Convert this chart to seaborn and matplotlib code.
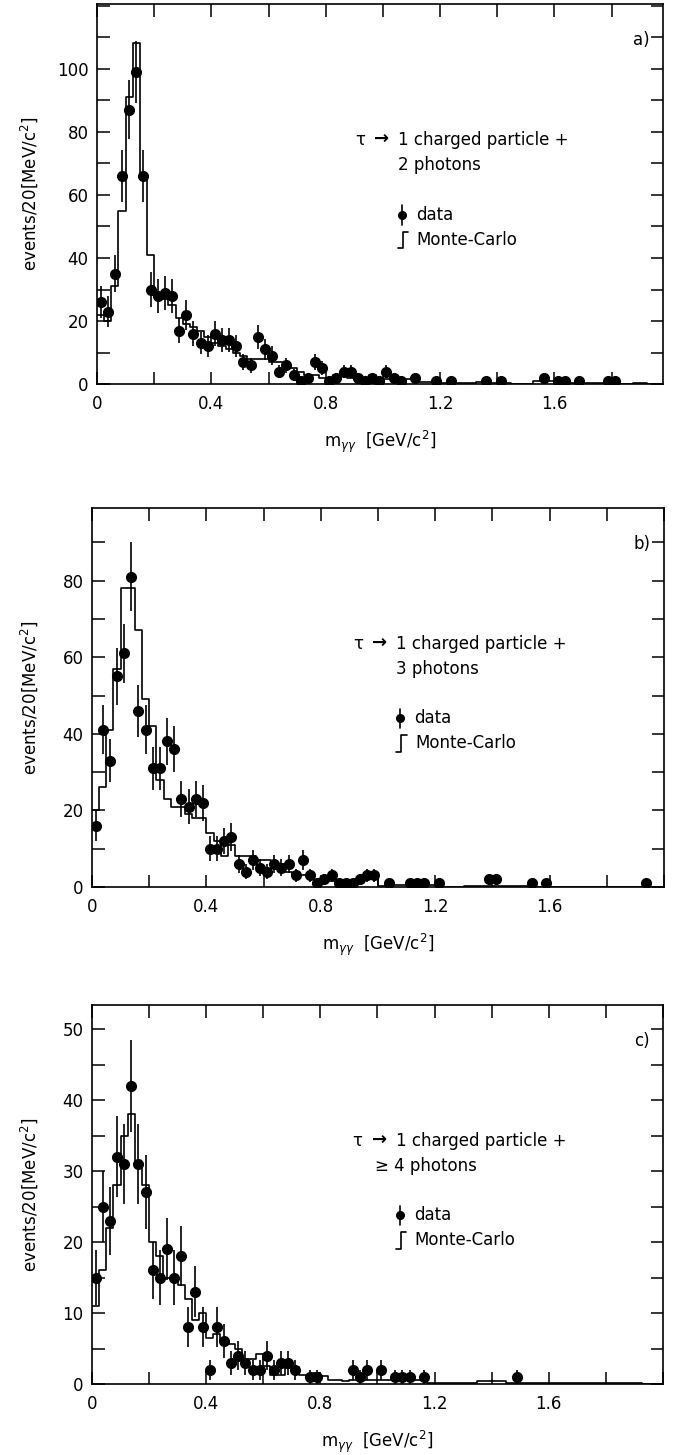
import numpy as np
import pandas as pd
import matplotlib
matplotlib.use('Agg')
import matplotlib.pyplot as plt
import seaborn as sns
from matplotlib.ticker import FixedLocator, MultipleLocator, FuncFormatter

# 25 MeV bins from 0 to 2 GeV (80 bins)
bin_edges = np.round(np.arange(0, 2.0001, 0.025), 4)
bin_centers = (bin_edges[:-1] + bin_edges[1:]) / 2
x_labels = [0, 0.4, 0.8, 1.2, 1.6]

# panel a) tau -> 1 charged + 2 photons
a_data = [26, 23, 35, 66, 87, 99, 66, 30, 28, 29,
          28, 17, 22, 16, 13, 12, 16, 14, 14, 12,
          7, 6, 15, 11, 9, 4, 6, 3, 1, 2,
          7, 5, 1, 2, 4, 4, 2, 1, 2, 1,
          4, 2, 1, 0, 2, 0, 0, 1, 0, 1,
          0, 0, 0, 0, 1, 0, 1, 0, 0, 0,
          0, 0, 2, 0, 1, 1, 0, 1, 0, 0,
          0, 1, 1, 0, 0, 0, 0, 0, 0, 0]
a_err = [5.1, 4.8, 5.9, 8.1, 9.3, 9.9, 8.1, 5.5, 5.3, 5.4,
         5.3, 4.1, 4.7, 4.0, 3.6, 3.5, 4.0, 3.7, 3.7, 3.5,
         2.6, 2.4, 3.9, 3.3, 3.0, 2.0, 2.4, 1.7, 1.0, 1.4,
         2.6, 2.2, 1.0, 1.4, 2.0, 2.0, 1.4, 1.0, 1.4, 1.0,
         2.0, 1.4, 1.0, 0, 1.4, 0, 0, 1.0, 0, 1.0,
         0, 0, 0, 0, 1.0, 0, 1.0, 0, 0, 0,
         0, 0, 1.4, 0, 1.0, 1.0, 0, 1.0, 0, 0,
         0, 1.0, 1.0, 0, 0, 0, 0, 0, 0, 0]
a_mc = [22, 20, 31, 55, 91, 108, 65, 41, 29, 27,
        25, 21, 19, 18, 17, 15, 13, 12, 11, 10,
        9, 8, 8, 8, 7, 7, 6, 5, 4, 3,
        3, 2, 2, 3, 3, 2, 2, 2, 3, 2,
        1.5, 1.5, 1.5, 1.5, 1.5, 0.8, 0.8, 0.5, 0.5, 0.5,
        0.2, 0.2, 0.2, 0.7, 0.7, 0.4, 0.4, 0.4, 0.1, 0.1,
        0.1, 1.0, 1.0, 1.0, 1.0, 0.4, 0.4, 0.4, 0.4, 0.4,
        0.4, 0.5, 0.5, 0, 0, 0.3, 0.3, 0, 0, 0]

# panel b) tau -> 1 charged + 3 photons
b_data = [16, 41, 33, 55, 61, 81, 46, 41, 31, 31,
          38, 36, 23, 21, 23, 22, 10, 10, 12, 13,
          6, 4, 7, 5, 4, 6, 5, 6, 3, 7,
          3, 1, 2, 3, 1, 1, 1, 2, 3, 3,
          0, 1, 0, 0, 1, 1, 1, 0, 1, 0,
          0, 0, 0, 0, 0, 2, 2, 0, 0, 0,
          0, 1, 0, 1, 0, 0, 0, 0, 0, 0,
          0, 0, 0, 0, 0, 0, 0, 1, 0, 0]
b_err = [4.0, 6.4, 5.7, 7.4, 7.8, 9.0, 6.8, 6.4, 5.6, 5.6,
         6.2, 6.0, 4.8, 4.6, 4.8, 4.7, 3.2, 3.2, 3.5, 3.6,
         2.4, 2.0, 2.6, 2.2, 2.0, 2.4, 2.2, 2.4, 1.7, 2.6,
         1.7, 1.0, 1.4, 1.7, 1.0, 1.0, 1.0, 1.4, 1.7, 1.7,
         0, 1.0, 0, 0, 1.0, 1.0, 1.0, 0, 1.0, 0,
         0, 0, 0, 0, 0, 1.4, 1.4, 0, 0, 0,
         0, 1.0, 0, 1.0, 0, 0, 0, 0, 0, 0,
         0, 0, 0, 0, 0, 0, 0, 1.0, 0, 0]
b_mc = [20, 26, 41, 57, 78, 78, 67, 49, 42, 28,
        23, 21, 21, 19, 18, 18, 14, 12, 8, 11,
        8, 8, 8, 7, 7, 6, 6, 4, 3, 3,
        3, 1.5, 1.5, 1.5, 1.5, 1.5, 1.5, 2, 2, 2,
        0.3, 0.3, 0.6, 0.6, 0.6, 0.6, 0.6, 0.5, 0.5, 0.1,
        0.1, 0.1, 0.3, 0.3, 0.3, 0.3, 0.3, 0.2, 0.2, 0.2,
        0.2, 0.1, 0.1, 0.1, 0.1, 0.1, 0.1, 0.1, 0.1, 0.1,
        0.1, 0.1, 0.1, 0.1, 0.1, 0, 0, 0, 0, 0]

# panel c) tau -> 1 charged + >=4 photons
c_data = [15, 25, 23, 32, 31, 42, 31, 27, 16, 15,
          19, 15, 18, 8, 13, 8, 2, 8, 6, 3,
          4, 3, 2, 2, 4, 2, 3, 3, 2, 0,
          1, 1, 0, 0, 0, 0, 2, 1, 2, 0,
          2, 0, 1, 1, 1, 0, 1, 0, 0, 0,
          0, 0, 0, 0, 0, 0, 0, 0, 0, 1,
          0, 0, 0, 0, 0, 0, 0, 0, 0, 0,
          0, 0, 0, 0, 0, 0, 0, 0, 0, 0]
c_err = [3.9, 5.0, 4.8, 5.7, 5.6, 6.5, 5.6, 5.2, 4.0, 3.9,
         4.4, 3.9, 4.2, 2.8, 3.6, 2.8, 1.4, 2.8, 2.4, 1.7,
         2.0, 1.7, 1.4, 1.4, 2.0, 1.4, 1.7, 1.7, 1.4, 0,
         1.0, 1.0, 0, 0, 0, 0, 1.4, 1.0, 1.4, 0,
         1.4, 0, 1.0, 1.0, 1.0, 0, 1.0, 0, 0, 0,
         0, 0, 0, 0, 0, 0, 0, 0, 0, 1.0,
         0, 0, 0, 0, 0, 0, 0, 0, 0, 0,
         0, 0, 0, 0, 0, 0, 0, 0, 0, 0]
c_mc = [11, 16, 22, 28, 35, 38, 31, 28, 20, 18,
        15, 15, 14, 12, 9, 10, 6.5, 7, 6, 5.6,
        5, 3.5, 3.5, 4.2, 2.5, 1.3, 1.3, 2.3, 2.4, 1.3,
        1.1, 1.6, 1.1, 0.6, 0.5, 0.4, 0.5, 0.6, 0.6, 0.5,
        0.5, 0.5, 0.5, 0.5, 0.5, 0.5, 0.5, 0.1, 0.1, 0.1,
        0.1, 0.1, 0.1, 0.1, 0.4, 0.4, 0.4, 0.4, 0.2, 0.2,
        0.2, 0.2, 0.2, 0.2, 0.2, 0.2, 0.2, 0.2, 0.1, 0.1,
        0.1, 0.1, 0.1, 0.1, 0.1, 0.1, 0.1, 0, 0, 0]

panels = [
    dict(data=a_data, err=a_err, mc=a_mc, tag='a)', photons='2 photons',
         rect=[0.1418, 0.736, 0.8275, 0.2612], xmax=1.98, ymax=120.5,
         ylabels=[0, 20, 40, 60, 80, 100], yminor=10),
    dict(data=b_data, err=b_err, mc=b_mc, tag='b)', photons='3 photons',
         rect=[0.1345, 0.3904, 0.8363, 0.2605], xmax=2.0, ymax=99,
         ylabels=[0, 20, 40, 60, 80], yminor=10),
    dict(data=c_data, err=c_err, mc=c_mc, tag='c)', photons='\u2265 4 photons',
         rect=[0.1345, 0.0488, 0.8348, 0.2605], xmax=2.0, ymax=53.4,
         ylabels=[0, 10, 20, 30, 40, 50], yminor=5),
]

sns.set_style('ticks')
plt.rcParams['font.family'] = ['DejaVu Sans']
plt.rcParams['mathtext.fontset'] = 'dejavusans'
for key in ['text.color', 'axes.labelcolor', 'xtick.color', 'ytick.color', 'axes.edgecolor']:
    plt.rcParams[key] = 'black'
fs = 12

fig = plt.figure(figsize=(6.84, 14.55), dpi=100)

for p in panels:
    ax = fig.add_axes(p['rect'])

    mc_df = pd.DataFrame({'m': bin_centers, 'w': p['mc']})
    sns.histplot(data=mc_df, x='m', weights='w', bins=list(bin_edges),
                 element='step', fill=False, color='black',
                 linewidth=1.2, ax=ax)

    data = np.array(p['data'], dtype=float)
    err = np.array(p['err'])
    keep = data > 0
    ax.errorbar(bin_centers[keep], data[keep], yerr=err[keep], fmt='o',
                color='black', ms=7, elinewidth=1.2, capsize=0, zorder=3)

    ax.set_xlim(0, p['xmax'])
    ax.set_ylim(0, p['ymax'])
    ax.xaxis.set_major_locator(FixedLocator(x_labels))
    ax.xaxis.set_minor_locator(MultipleLocator(0.2))
    ax.xaxis.set_major_formatter(FuncFormatter(lambda v, _: '0' if v == 0 else f'{v:.1f}'))
    ax.yaxis.set_major_locator(FixedLocator(p['ylabels']))
    ax.yaxis.set_minor_locator(MultipleLocator(p['yminor']))

    ax.tick_params(which='both', direction='in', top=True, right=True,
                   length=9, width=1.1, colors='black', labelsize=fs)
    ax.tick_params(axis='x', which='both', pad=8)
    ax.tick_params(axis='y', which='both', pad=6)
    for s in ax.spines.values():
        s.set_linewidth(1.2)
        s.set_color('black')

    ax.set_xlabel(r'm$_{\gamma\gamma}$  [GeV/c$^2$]', fontsize=fs)
    ax.set_ylabel('events/20[MeV/c$^2$]', fontsize=fs)
    fig_w = fig.get_figwidth() * fig.dpi
    ax_left_px = p['rect'][0] * fig_w
    ax_w_px = p['rect'][2] * fig_w
    ax.yaxis.set_label_coords((40 - ax_left_px) / ax_w_px, 0.5)
    ax.xaxis.set_label_coords(0.5, -0.118)

    # panel tag and annotation
    tr = ax.transAxes
    ax.text(0.977, 0.905, p['tag'], transform=tr, ha='right', va='center', fontsize=fs)
    ax.text(0.456, 0.642, '\u03c4', transform=tr, ha='left', va='center', fontsize=fs)
    ax.text(0.503, 0.645, '\u2192', transform=tr, ha='center', va='center',
            fontsize=fs + 1, fontweight='bold')
    ax.text(0.532, 0.642, '1 charged particle +', transform=tr, ha='left', va='center', fontsize=fs)
    ph_x = 0.496 if p['photons'].startswith('\u2265') else 0.532
    ax.text(ph_x, 0.576, p['photons'], transform=tr, ha='left', va='center', fontsize=fs)

    # legend keys
    ax.plot([0.539], [0.445], 'o', color='black', ms=5.5, transform=tr, clip_on=False)
    ax.plot([0.539, 0.539], [0.42, 0.47], color='black', lw=1.2, transform=tr, clip_on=False)
    ax.text(0.564, 0.445, 'data', transform=tr, ha='left', va='center', fontsize=fs)
    ax.plot([0.532, 0.541, 0.541, 0.550], [0.357, 0.357, 0.400, 0.400],
            color='black', lw=1.2, transform=tr, clip_on=False)
    ax.text(0.565, 0.379, 'Monte-Carlo', transform=tr, ha='left', va='center', fontsize=fs)

fig.savefig('out.png', dpi=100)
